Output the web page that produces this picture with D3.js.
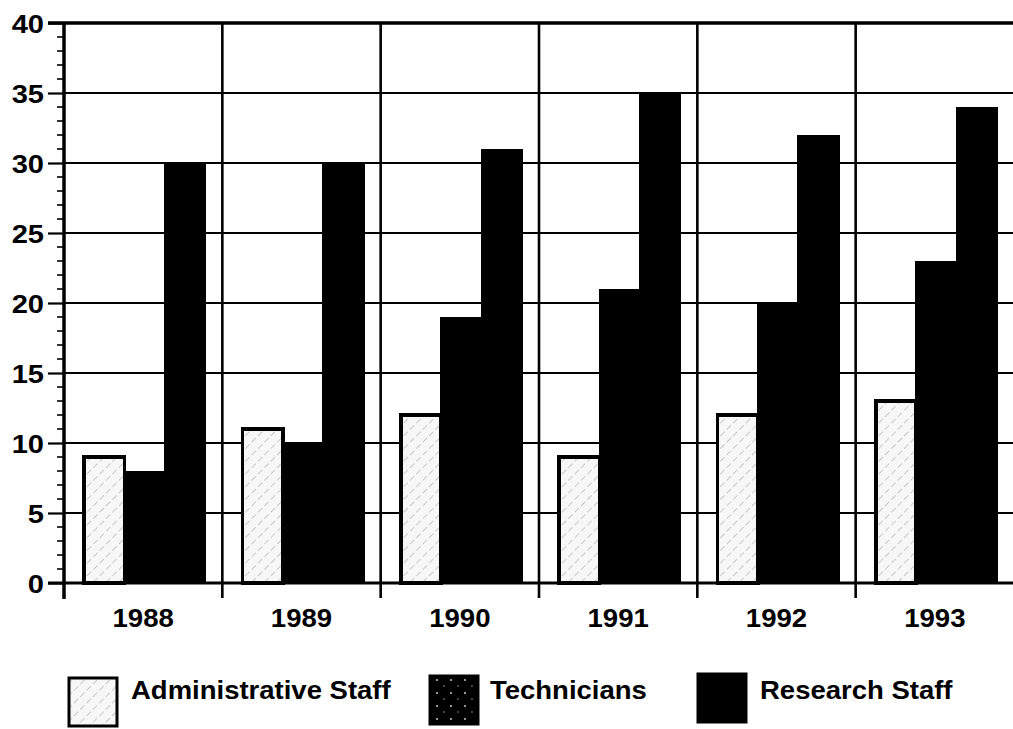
<!DOCTYPE html>
<html>
<head>
<meta charset="utf-8">
<script src="https://cdn.jsdelivr.net/npm/d3@7"></script>
<style>
  html, body { margin: 0; padding: 0; background: #fff; }
  svg { display: block; }
  text { font-family: "Liberation Sans", Arial, Helvetica, sans-serif; font-weight: bold; fill: #000; }
</style>
</head>
<body>
<svg id="chart" width="1013" height="729"></svg>
<script>
// Staff numbers per year, by staff category
const years = ["1988", "1989", "1990", "1991", "1992", "1993"];
const seriesNames = ["Administrative Staff", "Technicians", "Research Staff"];
const adminStaff = [9, 11, 12, 9, 12, 13];
const technicians = [8, 10, 19, 21, 20, 23];
const researchStaff = [30, 30, 31, 35, 32, 34];
const yTicks = [0, 5, 10, 15, 20, 25, 30, 35, 40];

const seriesValues = [adminStaff, technicians, researchStaff];
const rows = years.map((yr, i) => ({
  year: yr,
  values: seriesNames.map((s, k) => ({ key: s, value: seriesValues[k][i] }))
}));

const svg = d3.select("#chart");
const defs = svg.append("defs");

// light hatch for administrative staff
const hatch = defs.append("pattern")
  .attr("id", "hatch").attr("patternUnits", "userSpaceOnUse")
  .attr("width", 9).attr("height", 9)
  .attr("patternTransform", "rotate(45)");
hatch.append("rect").attr("width", 9).attr("height", 9).attr("fill", "#f7f7f7");
hatch.append("line").attr("x1", 0).attr("y1", 0).attr("x2", 0).attr("y2", 9)
  .attr("stroke", "#9a9a9a").attr("stroke-width", 1).attr("stroke-dasharray", "4 3");

// black with sparse white specks for technicians
const speck = defs.append("pattern")
  .attr("id", "speck").attr("patternUnits", "userSpaceOnUse")
  .attr("width", 14).attr("height", 13);
speck.append("rect").attr("width", 14).attr("height", 13).attr("fill", "#000");
speck.append("circle").attr("cx", 3).attr("cy", 4).attr("r", 0.9).attr("fill", "#ddd");
speck.append("circle").attr("cx", 10).attr("cy", 10).attr("r", 0.7).attr("fill", "#bbb");

const fills = { "Administrative Staff": "url(#hatch)", "Technicians": "#000", "Research Staff": "#000" };

const x0 = d3.scaleBand().domain(years).range([64, 1014]).padding(0);
const bw = x0.bandwidth();
const x1 = d3.scaleBand().domain(seriesNames).range([bw * 0.127, bw * 0.893]).padding(0);
const y = d3.scaleLinear().domain([0, 40]).range([583, 23]);

// horizontal grid lines
svg.append("g").selectAll("line").data(yTicks.filter(t => t > 0 && t < 40)).join("line")
  .attr("x1", 64).attr("x2", 1013)
  .attr("y1", d => y(d)).attr("y2", d => y(d))
  .attr("stroke", "#000").attr("stroke-width", 2.2);

// vertical separators between years
svg.append("g").selectAll("line").data(years.slice(1)).join("line")
  .attr("x1", d => x0(d)).attr("x2", d => x0(d))
  .attr("y1", y(40)).attr("y2", y(0) + 15)
  .attr("stroke", "#000").attr("stroke-width", 2.6);

// bars (black bars overlap by a pixel so neighbours merge without a seam)
const groups = svg.append("g").selectAll("g").data(rows).join("g")
  .attr("transform", d => `translate(${x0(d.year)},0)`);

groups.selectAll("rect").data(d => d.values.slice().reverse()).join("rect")
  .attr("x", d => x1(d.key) - (d.key === "Administrative Staff" ? 0 : 1))
  .attr("y", d => y(d.value))
  .attr("width", d => x1.bandwidth() + (d.key === "Administrative Staff" ? 0 : 2))
  .attr("height", d => y(0) - y(d.value))
  .attr("fill", d => fills[d.key])
  .attr("stroke", d => d.key === "Administrative Staff" ? "#000" : "none")
  .attr("stroke-width", 3.5)
  .attr("shape-rendering", "crispEdges");

// top frame line
svg.append("line").attr("x1", 48).attr("x2", 1013)
  .attr("y1", y(40)).attr("y2", y(40))
  .attr("stroke", "#000").attr("stroke-width", 3.5);

// y axis with minor ticks
const yAxis = d3.axisLeft(y).tickValues(yTicks).tickSize(16).tickPadding(4).tickFormat(d3.format("d"));
const gy = svg.append("g").attr("transform", "translate(64,0)").call(yAxis);
gy.select(".domain").remove();
gy.selectAll(".tick line").attr("stroke", "#000").attr("stroke-width", 2.2);
gy.selectAll(".tick text")
  .style("font-size", "26px")
  .attr("dy", "0.36em")
  .attr("transform", "translate(-20,0) scale(1.12,1) translate(20,0)");
const minor = d3.range(0, 41).filter(v => v % 5 !== 0);
svg.append("g").selectAll("line").data(minor).join("line")
  .attr("x1", 57).attr("x2", 64)
  .attr("y1", d => y(d)).attr("y2", d => y(d))
  .attr("stroke", "#000").attr("stroke-width", 1.6);
svg.append("line").attr("x1", 64).attr("x2", 64)
  .attr("y1", y(40) - 1).attr("y2", y(0) + 16)
  .attr("stroke", "#000").attr("stroke-width", 3.5);

// x axis baseline and year labels
svg.append("line").attr("x1", 48).attr("x2", 1013)
  .attr("y1", y(0)).attr("y2", y(0))
  .attr("stroke", "#000").attr("stroke-width", 3);
svg.append("g").selectAll("text").data(years).join("text")
  .attr("transform", d => `translate(${x0(d) + bw / 2},627) scale(1.06,1)`)
  .attr("text-anchor", "middle")
  .style("font-size", "26px")
  .text(d => d);

// legend
const legendItems = [
  { key: "Administrative Staff", bx: 69, by: 678, tx: 131 },
  { key: "Technicians", bx: 430, by: 676, tx: 490 },
  { key: "Research Staff", bx: 698, by: 674, tx: 760 }
];
const legendFill = { "Administrative Staff": "url(#hatch)", "Technicians": "url(#speck)", "Research Staff": "#000" };
const lg = svg.append("g").selectAll("g").data(legendItems).join("g");
lg.append("rect")
  .attr("x", d => d.bx).attr("y", d => d.by)
  .attr("width", 48).attr("height", 48)
  .attr("fill", d => legendFill[d.key])
  .attr("stroke", "#000").attr("stroke-width", 3);
lg.append("text")
  .attr("transform", d => `translate(${d.tx},699) scale(1.1,1)`)
  .style("font-size", "25px")
  .text(d => d.key);
</script>
</body>
</html>
